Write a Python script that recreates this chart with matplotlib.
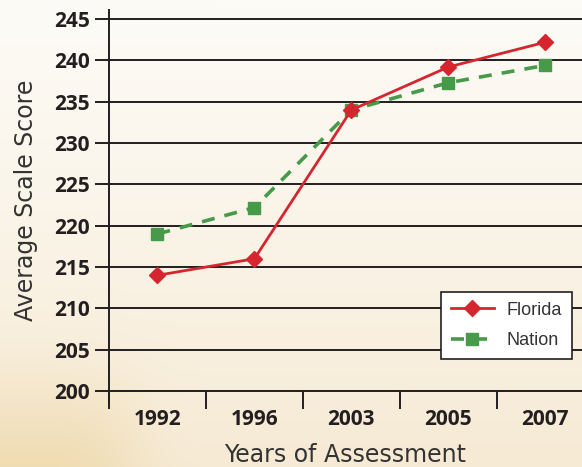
import matplotlib
matplotlib.use("Agg")
import matplotlib.pyplot as plt
import numpy as np

# data
years = ["1992", "1996", "2003", "2005", "2007"]
florida = [214, 216, 234, 239.2, 242.2]
nation = [219, 222.2, 234, 237.3, 239.4]
yticks = [200, 205, 210, 215, 220, 225, 230, 235, 240, 245]

RED = "#d52630"
GREEN = "#479a49"
INK = "#231f20"

fig = plt.figure(figsize=(5.82, 4.67), dpi=100)

# background: light cream gradient with a tan patch at the lower left
bg_ax = fig.add_axes([0, 0, 1, 1], zorder=-10)
h, w = 467, 582
yy, xx = np.mgrid[0:h, 0:w]
t = (yy / h) ** 1.2
top = np.array([253, 251, 246]) / 255
bot = np.array([246, 234, 212]) / 255
img = top[None, None, :] * (1 - t[..., None]) + bot[None, None, :] * t[..., None]
blob = np.exp(-(((xx - 20) / 120.0) ** 4 + ((yy - 480) / 90.0) ** 2))
tan = np.array([238, 216, 168]) / 255
img = img * (1 - blob[..., None] * 0.75) + tan[None, None, :] * blob[..., None] * 0.75
bg_ax.imshow(img, aspect="auto", extent=[0, 1, 0, 1])
bg_ax.axis("off")

ax = fig.add_axes([109 / 582, 1 - 391 / 467, 1 - 109 / 582, (391 - 10) / 467])
ax.set_facecolor("none")

x = np.arange(len(years))
ax.plot(x, florida, color=RED, lw=2.0, marker="D", ms=8.5, label="Florida", zorder=4)
ax.plot(x, nation, color=GREEN, lw=2.6, ls=(0, (3.6, 2.8)), marker="s", ms=8.5,
        label="Nation", zorder=3)

ax.set_ylim(200, 246.1)
ax.set_xlim(-0.5, 4.38)

ax.set_yticks(yticks)
for v in yticks:
    ax.axhline(v, color=INK, lw=1.4, zorder=1)

ax.set_xticks(x)
ax.set_xticklabels(years)
ax.set_xticks(np.arange(-0.5, 4.0, 1.0), minor=True)
ax.tick_params(axis="x", which="major", length=0, pad=13)
ax.tick_params(axis="x", which="minor", length=13, width=1.4, color=INK, direction="out")
ax.tick_params(axis="y", length=10, width=1.4, color=INK, pad=4)

for lab in ax.get_xticklabels() + ax.get_yticklabels():
    lab.set_fontfamily("Open Sans")
    lab.set_fontweight("bold")
    lab.set_fontsize(15)
    lab.set_color(INK)

for side in ["top", "right"]:
    ax.spines[side].set_visible(False)
ax.spines["left"].set_color(INK)
ax.spines["left"].set_linewidth(1.4)
ax.spines["bottom"].set_color(INK)
ax.spines["bottom"].set_linewidth(1.4)
ax.spines["left"].set_bounds(198.4, 246.1)

ax.set_ylabel("Average Scale Score", fontsize=17, color="#333333", labelpad=11)
ax.set_xlabel("Years of Assessment", fontsize=17, color="#333333", labelpad=9)

leg = ax.legend(loc="lower right", bbox_to_anchor=(0.979, 0.084), borderaxespad=0,
                fancybox=False, framealpha=1, edgecolor=INK, handlelength=2.4,
                borderpad=0.55, labelspacing=0.75, handletextpad=0.7,
                prop={"family": "Liberation Sans", "size": 13})
leg.get_frame().set_linewidth(1.2)
for txt in leg.get_texts():
    txt.set_color("#333333")

fig.savefig("out.png", dpi=100)
